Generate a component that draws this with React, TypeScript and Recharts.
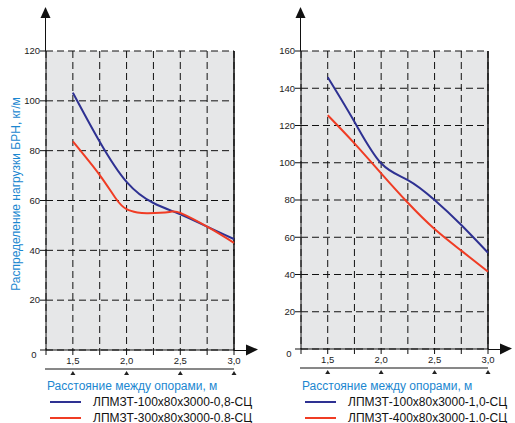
import { CartesianGrid, Line, LineChart, ReferenceLine, XAxis, YAxis } from 'recharts'

// x values (m)
const xSteps = [1.5, 1.75, 2.0, 2.25, 2.5, 2.75, 3.0]
const xTicks = [1.25, 1.5, 1.75, 2.0, 2.25, 2.5, 2.75, 3.0]

// left panel, 0.8 mm
const blue08 = [103.3, 83.6, 67.5, 59, 54.5, 49.5, 44.5]
const red08X = [1.5, 1.75, 1.9, 2.0, 2.1, 2.2, 2.4, 2.5, 2.75, 3.0]
const red08 = [83.7, 70.2, 60.8, 56.5, 55.2, 54.9, 55.4, 55.0, 49.5, 43]
const yTicks08 = [0, 20, 40, 60, 80, 100, 120]

// right panel, 1.0 mm
const blue10 = [145.9, 122, 99.7, 90.7, 80, 66.6, 51.7]
const red10 = [125.5, 110.4, 94.3, 78.5, 64.4, 52.8, 41.5]
const yTicks10 = [0, 20, 40, 60, 80, 100, 120, 140, 160]

const names08 = ['ЛПМЗТ-100x80x3000-0,8-СЦ', 'ЛПМЗТ-300x80x3000-0.8-СЦ']
const names10 = ['ЛПМЗТ-100x80x3000-1,0-СЦ', 'ЛПМЗТ-400x80x3000-1.0-СЦ']

const BLUE = '#2e3192'
const RED = '#f03c24'
const TITLE = '#1b87d0'
const FONT = '"Liberation Sans", Arial, sans-serif'
const H = 423
const X_AXIS_H = 24

const toRows = (xs: number[], ys: number[]) => xs.map((x, i) => ({ x, y: ys[i] }))

function XTick({ x, y, payload }: any) {
  const v = payload.value
  const major = v >= 1.5 && Math.abs(v * 2 - Math.round(v * 2)) < 1e-6
  if (!major) return null
  return (
    <g>
      <text x={x} y={y} dy={7} textAnchor="middle" fontSize={9.5} fill="#222" fontFamily={FONT}>
        {v.toFixed(1).replace('.', ',')}
      </text>
      <polygon points={`${x},${y + 14} ${x - 2.5},${y + 18} ${x + 2.5},${y + 18}`} fill="#222" />
    </g>
  )
}

function YTick({ x, y, payload }: any) {
  if (payload.value === 0) {
    return (
      <text x={x - 6} y={y + 7.5} textAnchor="middle" fontSize={9.5} fill="#222" fontFamily={FONT}>0</text>
    )
  }
  return (
    <text x={x} y={y + 3.3} textAnchor="end" fontSize={9.5} fill="#222" fontFamily={FONT}>{payload.value}</text>
  )
}

interface PanelProps {
  left: number
  width: number
  plotLeft: number
  plotRight: number
  plotBottom: number
  yMax: number
  yTicks: number[]
  blue: { x: number; y: number }[]
  red: { x: number; y: number }[]
  names: string[]
  yLabel?: string
}

function Panel(p: PanelProps) {
  const plotTop = 51
  return (
    <div style={{ position: 'absolute', left: p.left, top: 0, width: p.width, height: H }}>
      <LineChart
        width={p.width}
        height={H}
        margin={{ top: plotTop, right: p.width - p.plotRight, bottom: H - p.plotBottom - X_AXIS_H, left: 0 }}
      >
        <CartesianGrid stroke="#111" strokeDasharray="7 4" fill="#e6e7e8" fillOpacity={1} />
        <XAxis
          type="number"
          dataKey="x"
          domain={[1.25, 3]}
          ticks={xTicks}
          allowDuplicatedCategory={false}
          height={X_AXIS_H}
          tickSize={5}
          tickMargin={2}
          stroke="#111"
          tick={<XTick />}
          interval={0}
        />
        <YAxis
          type="number"
          domain={[0, p.yMax]}
          ticks={p.yTicks}
          width={p.plotLeft}
          tickSize={6}
          tickMargin={0}
          stroke="#111"
          tick={<YTick />}
          interval={0}
        />
        <ReferenceLine x={3} stroke="#111" strokeWidth={1.5} />
        <Line data={p.blue} dataKey="y" name={p.names[0]} type="natural" stroke={BLUE} strokeWidth={2} dot={false} isAnimationActive={false} />
        <Line data={p.red} dataKey="y" name={p.names[1]} type="natural" stroke={RED} strokeWidth={2} dot={false} isAnimationActive={false} />
      </LineChart>
      <svg width={p.width} height={H} style={{ position: 'absolute', left: 0, top: 0, overflow: 'visible', pointerEvents: 'none' }}>
        {/* axis arrows */}
        <line x1={p.plotLeft - 0.5} y1={plotTop} x2={p.plotLeft - 0.5} y2={16} stroke="#111" strokeWidth={1} />
        <polygon points={`${p.plotLeft - 0.5},7 ${p.plotLeft - 5.5},18 ${p.plotLeft + 4.5},18`} fill="#111" />
        <line x1={p.plotRight} y1={p.plotBottom + 0.5} x2={p.plotRight + 13} y2={p.plotBottom + 0.5} stroke="#111" strokeWidth={1} />
        <polygon points={`${p.plotRight + 24},${p.plotBottom - 0.5} ${p.plotRight + 12},${p.plotBottom - 5.5} ${p.plotRight + 12},${p.plotBottom + 5.5}`} fill="#111" />
        {/* line under tick labels */}
        <line x1={p.plotLeft - 1} y1={p.plotBottom + 19} x2={p.plotRight} y2={p.plotBottom + 19} stroke="#111" strokeWidth={1} />
        {p.yLabel && (
          <text
            transform={`translate(20, 194) rotate(-90)`}
            textAnchor="middle"
            fontSize={12}
            fill={TITLE}
            fontFamily={FONT}
          >
            {p.yLabel}
          </text>
        )}
        <text x={p.plotLeft + 1} y={390} fontSize={12} fill={TITLE} fontFamily={FONT}>
          Расстояние между опорами, м
        </text>
        {p.names.map((n, i) => (
          <g key={n}>
            <line x1={p.plotLeft + 4} x2={p.plotLeft + 35} y1={402 + i * 16} y2={402 + i * 16} stroke={i === 0 ? BLUE : RED} strokeWidth={2} />
            <text x={p.plotLeft + 47} y={406} dy={i * 15.5} fontSize={12} fill="#111" fontFamily={FONT}>
              {n}
            </text>
          </g>
        ))}
      </svg>
    </div>
  )
}

export default function App() {
  return (
    <div style={{ position: 'absolute', left: 0, top: 0, width: 515, height: H, background: '#fff', fontFamily: FONT }}>
      <Panel
        left={0}
        width={258}
        plotLeft={46}
        plotRight={234}
        plotBottom={350}
        yMax={120}
        yTicks={yTicks08}
        blue={toRows(xSteps, blue08)}
        red={toRows(red08X, red08)}
        names={names08}
        yLabel="Распределение нагрузки БРН, кг/м"
      />
      <Panel
        left={258}
        width={257}
        plotLeft={43}
        plotRight={230}
        plotBottom={349}
        yMax={160}
        yTicks={yTicks10}
        blue={toRows(xSteps, blue10)}
        red={toRows(xSteps, red10)}
        names={names10}
      />
    </div>
  )
}
